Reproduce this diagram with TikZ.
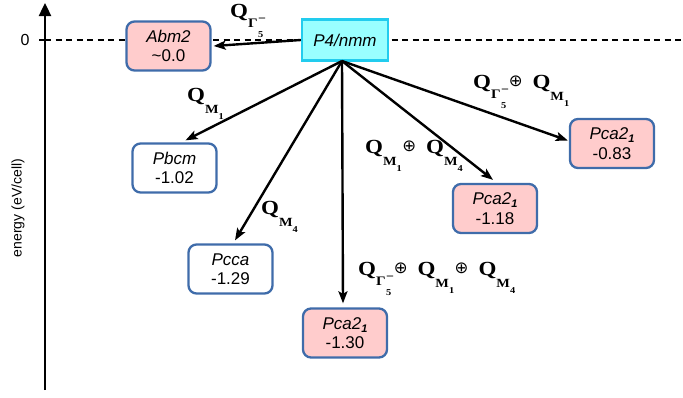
\documentclass[tikz,border=0pt]{standalone}
\usepackage[no-math]{fontspec}
\setmainfont{Liberation Sans}
\newfontfamily\qf[FakeStretch=1.15]{Liberation Serif}
\newfontfamily\djf{DejaVu Sans}
\usetikzlibrary{arrows.meta}
\definecolor{boxblue}{HTML}{3F6CAA}
\definecolor{pinkfill}{HTML}{FFCCCC}
\definecolor{cyanfill}{HTML}{99FFFF}
\definecolor{cyanborder}{HTML}{22CCEE}
\newcommand{\pcaname}{\textit{Pca2}\raisebox{-3pt}{\fontsize{11}{11}\selectfont\bfseries\itshape 1}}
% Q with subscript M and sub-subscript #1
\newcommand{\QM}[1]{{\qf\bfseries Q\raisebox{-12pt}{\fontsize{12.5}{13}\selectfont M\raisebox{-6pt}{\fontsize{9}{9}\selectfont #1}}}}
\newcommand{\QG}{{\qf\bfseries Q\raisebox{-10pt}{\fontsize{13}{13}\selectfont Γ}\hspace{0.5pt}\makebox[6pt][l]{\raisebox{-5.5pt}{\fontsize{12}{12}\selectfont −}}\hspace{-6pt}\raisebox{-20pt}{\fontsize{9}{9}\selectfont 5}\hspace{2pt}}}
\newcommand{\opl}{\hspace{0.5pt}\raisebox{1.8pt}{\djf\fontsize{16.5}{17}\selectfont ⊕}\hspace{10pt}}
\begin{document}
\begin{tikzpicture}[x=1pt,y=-1pt,
  phase/.style={draw=boxblue, line width=2.3pt, rounded corners=8pt,
    minimum width=84pt, minimum height=49pt, align=center, inner sep=0pt,
    font=\fontsize{17}{19.5}\selectfont},
  lowphase/.style={phase, fill=pinkfill},
  highphase/.style={draw=cyanborder, fill=cyanfill, line width=2.6pt,
    minimum width=86pt, minimum height=41pt, inner sep=0pt,
    font=\fontsize{17}{19}\selectfont},
  arr/.style={line width=2.4pt, -{Stealth[length=12pt,width=9pt,inset=2.5pt]}},
  qlab/.style={anchor=base west, inner sep=0pt, font=\fontsize{20}{22}\selectfont}
]
\useasboundingbox (0,0) rectangle (683,397);

% axis
\coordinate (axbot) at (45,390);
\coordinate (axtop) at (45,3);
\draw[line width=2.4pt, -{Triangle[length=13pt,width=12pt]}] (axbot) -- (axtop);
\coordinate (tickl) at (39,40);
\coordinate (tickr) at (45,40);
\coordinate (dashend) at (683,40);
\draw[line width=2pt] (tickl) -- (tickr);
\draw[line width=2.3pt, dash pattern=on 6pt off 4.5pt] (tickr) -- (dashend);
\node[font=\fontsize{16}{18}\selectfont, inner sep=0pt] (zero) at (25,40) {0};
\node[font=\fontsize{14}{16}\selectfont, rotate=90, inner sep=0pt] (elabel) at (18,208) {energy (eV/cell)};

% phases
\node[highphase] (p4) at (345,40) {\textit{P4/nmm}};
\node[lowphase] (abm) at (168.5,46) {\textit{Abm2}\\\textasciitilde0.0};
\node[phase, fill=white] (pbcm) at (174.5,168) {\textit{Pbcm}\\-1.02};
\node[phase, fill=white] (pcca) at (230.5,269) {\textit{Pcca}\\-1.29};
\node[lowphase] (pca1) at (345,333) {\pcaname\\-1.30};
\node[lowphase] (pca2) at (495,208.5) {\pcaname\\-1.18};
\node[lowphase] (pca3) at (612,143.5) {\pcaname\\-0.83};

% arrows
\coordinate (src) at (342,61);
\draw[arr] (p4.west) -- ([xshift=2pt]abm.east);
\draw[arr] (src) -- ([xshift=11pt,yshift=2pt]pbcm.north);
\draw[arr] (src) -- ([xshift=4.5pt,yshift=3pt]pcca.north);
\draw[arr] (src) -- ([xshift=-2pt,yshift=4pt]pca1.north);
\draw[arr] (src) -- ([xshift=-2pt,yshift=3pt]pca2.north);
\draw[arr] (src) -- ([xshift=-1pt,yshift=3pt]pca3.west);

% labels
\node[qlab] (l1) at (230,17) {\QG};
\node[qlab] (l2) at (187,101) {\QM{1}};
\node[qlab] (l3) at (261,214) {\QM{4}};
\node[qlab] (l4) at (473,88) {\QG\opl\QM{1}};
\node[qlab] (l5) at (365,153) {\QM{1}\opl\QM{4}};
\node[qlab] (l6) at (358,275) {\QG\opl\QM{1}\opl\QM{4}};
\end{tikzpicture}
\end{document}
